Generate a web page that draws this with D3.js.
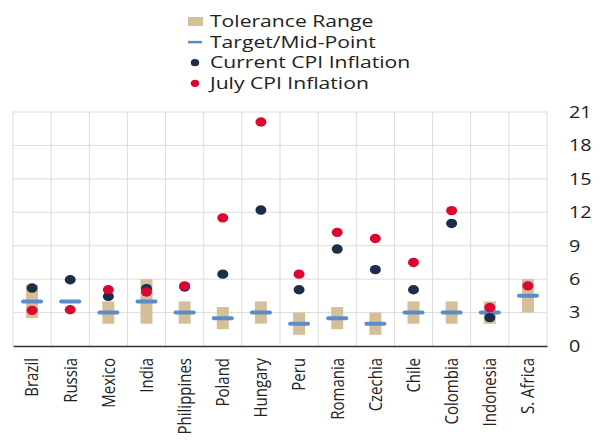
<!DOCTYPE html>
<html>
<head>
<meta charset="utf-8">
<script src="https://cdn.jsdelivr.net/npm/d3@7"></script>
<style>
  body { margin: 0; background: #fff; }
  svg { font-family: 'Open Sans', sans-serif; }
</style>
</head>
<body>
<svg id="chart" width="600" height="447"></svg>
<script>
// data
const countries = ['Brazil', 'Russia', 'Mexico', 'India', 'Philippines', 'Poland', 'Hungary',
  'Peru', 'Romania', 'Czechia', 'Chile', 'Colombia', 'Indonesia', 'S. Africa']
const rangeLow = [2.5, null, 2, 2, 2, 1.5, 2, 1, 1.5, 1, 2, 2, 2, 3]
const rangeHigh = [5.5, null, 4, 6, 4, 3.5, 4, 3, 3.5, 3, 4, 4, 4, 6]
const target = [4, 4, 3, 4, 3, 2.5, 3, 2, 2.5, 2, 3, 3, 3, 4.5]
const currentCPI = [5.2, 5.95, 4.45, 5.15, 5.3, 6.45, 12.2, 5.05, 8.7, 6.85, 5.05, 11.0, 2.55, null]
const julyCPI = [3.2, 3.25, 5.05, 4.85, 5.4, 11.5, 20.1, 6.45, 10.2, 9.65, 7.5, 12.15, 3.45, 5.4]
const yTickValues = [0, 3, 6, 9, 12, 15, 18, 21]

const colors = {
  range: '#d5bf99',
  target: '#5b8bc8',
  current: '#1b2f48',
  july: '#dc0731'
}
// the text in the picture looks a bit wider than it is tall
const stretch = 1.28

const svg = d3.select('#chart')
const margin = { top: 112, bottom: 101, left: 13, right: 53 }
const width = +svg.attr('width')
const height = +svg.attr('height')
const innerWidth = width - margin.left - margin.right
const innerHeight = height - margin.top - margin.bottom
const g = svg.append('g')
  .attr('transform', `translate(${margin.left}, ${margin.top})`)

// scales
const xScale = d3.scaleBand()
  .domain(countries)
  .range([0, innerWidth])
const yScale = d3.scaleLinear()
  .domain([0, 21])
  .range([innerHeight, 0])

// grid
g.append('g')
  .selectAll('line')
  .data(yTickValues.slice(1))
  .enter()
  .append('line')
  .attr('x1', 0)
  .attr('x2', innerWidth)
  .attr('y1', d => yScale(d))
  .attr('y2', d => yScale(d))
  .style('stroke', '#dcdcdc')
  .style('stroke-width', 1)
g.append('g')
  .selectAll('line')
  .data(countries.concat(['end']))
  .enter()
  .append('line')
  .attr('x1', (d, i) => i * xScale.step())
  .attr('x2', (d, i) => i * xScale.step())
  .attr('y1', 0)
  .attr('y2', innerHeight)
  .style('stroke', '#dcdcdc')
  .style('stroke-width', 1)

// right axis labels
const yAxis = d3.axisRight()
  .scale(yScale)
  .tickValues(yTickValues)
  .tickSize(0)
  .tickPadding(0)
const yAxisG = g.append('g')
  .attr('transform', `translate(${innerWidth}, 0)`)
  .call(yAxis)
yAxisG.select('.domain').remove()
yAxisG.selectAll('text')
  .attr('x', 0)
  .attr('transform', `translate(22, 0) scale(1.2, 1)`)
  .style('font-size', '16.5px')
  .style('fill', '#222')
  .style('font-family', "'Open Sans', sans-serif")

// bottom axis
const xAxis = d3.axisBottom()
  .scale(xScale)
  .tickSize(0)
  .tickPadding(0)
const xAxisG = g.append('g')
  .attr('transform', `translate(0, ${innerHeight})`)
  .call(xAxis)
xAxisG.select('.domain')
  .style('stroke', '#333')
  .style('stroke-width', 1.5)
xAxisG.selectAll('text')
  .attr('transform', 'scale(1.2, 1) rotate(-90)')
  .attr('text-anchor', 'end')
  .attr('x', -12)
  .attr('y', 0)
  .attr('dy', '0.35em')
  .style('font-size', '15px')
  .style('fill', '#222')
  .style('font-family', "'Open Sans', sans-serif")

const cx = d => xScale(d) + xScale.bandwidth() / 2

// tolerance ranges
g.append('g')
  .selectAll('rect')
  .data(countries.filter((c, i) => rangeLow[i] !== null))
  .enter()
  .append('rect')
  .attr('x', d => cx(d) - 6)
  .attr('width', 12)
  .attr('y', d => yScale(rangeHigh[countries.indexOf(d)]))
  .attr('height', d => yScale(rangeLow[countries.indexOf(d)]) - yScale(rangeHigh[countries.indexOf(d)]))
  .style('fill', colors.range)

// targets
g.append('g')
  .selectAll('line')
  .data(countries)
  .enter()
  .append('line')
  .attr('x1', d => cx(d) - 9)
  .attr('x2', d => cx(d) + 9)
  .attr('y1', (d, i) => yScale(target[i]))
  .attr('y2', (d, i) => yScale(target[i]))
  .style('stroke', colors.target)
  .style('stroke-width', 4)
  .style('stroke-linecap', 'round')

// dots
const drawDots = (values, color) => {
  g.append('g')
    .selectAll('ellipse')
    .data(countries.filter((c, i) => values[i] !== null))
    .enter()
    .append('ellipse')
    .attr('cx', d => cx(d))
    .attr('cy', d => yScale(values[countries.indexOf(d)]))
    .attr('rx', 5.5)
    .attr('ry', 4.7)
    .style('fill', color)
}
drawDots(currentCPI, colors.current)
drawDots(julyCPI, colors.july)

// legend
const legend = svg.append('g')
  .attr('transform', 'translate(195, 21.5)')
const legendItems = [
  { type: 'rect', color: colors.range, text: 'Tolerance Range' },
  { type: 'line', color: colors.target, text: 'Target/Mid-Point' },
  { type: 'circle', color: colors.current, text: 'Current CPI Inflation' },
  { type: 'circle', color: colors.july, text: 'July CPI Inflation' }
]
legendItems.forEach((t, i) => {
  const y = i * 20.6
  if (t.type === 'rect') {
    legend.append('rect')
      .attr('x', -7).attr('y', y - 4.5)
      .attr('width', 15).attr('height', 9)
      .style('fill', t.color)
  } else if (t.type === 'line') {
    legend.append('line')
      .attr('x1', -7).attr('x2', 7)
      .attr('y1', y).attr('y2', y)
      .style('stroke', t.color)
      .style('stroke-width', 2.5)
  } else {
    legend.append('ellipse')
      .attr('cx', 0).attr('cy', y)
      .attr('rx', 4.2).attr('ry', 3.6)
      .style('fill', t.color)
  }
  legend.append('text')
    .attr('x', 0)
    .attr('y', 0)
    .attr('dy', '0.35em')
    .attr('transform', `translate(15, ${y}) scale(${stretch}, 1)`)
    .style('font-size', '16.5px')
    .style('fill', '#222')
    .text(t.text)
})
</script>
</body>
</html>
